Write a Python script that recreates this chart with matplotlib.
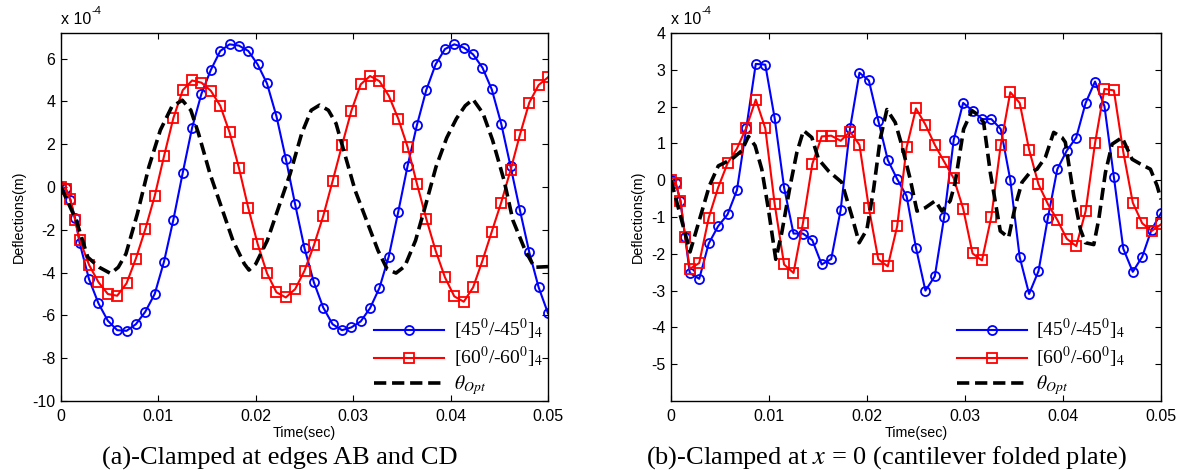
import numpy as np
import matplotlib
matplotlib.use("Agg")
import matplotlib.pyplot as plt

plt.rcParams['font.family'] = ['Liberation Sans', 'DejaVu Sans']
plt.rcParams['mathtext.fontset'] = 'stix'

# time samples (ms), shared by the two laminate series
t_ms = [0, 0.48, 0.96, 1.44, 1.92, 2.88, 3.85, 4.81, 5.77, 6.73,
        7.69, 8.65, 9.62, 10.58, 11.54, 12.50, 13.46, 14.42, 15.38, 16.35,
        17.31, 18.27, 19.23, 20.19, 21.15, 22.12, 23.08, 24.04, 25.00, 25.96,
        26.92, 27.88, 28.85, 29.81, 30.77, 31.73, 32.69, 33.65, 34.62, 35.58,
        36.54, 37.50, 38.46, 39.42, 40.38, 41.35, 42.31, 43.27, 44.23, 45.19,
        46.15, 47.12, 48.08, 49.04, 50.00]

# (a) clamped at edges AB and CD, deflections x 1e-4 m
a_45 = [0, -0.05, -0.6, -1.45, -2.63,
        -4.31, -5.44, -6.25, -6.69, -6.72, -6.41, -5.83, -5.0, -3.48, -1.52,
        0.67, 2.77, 4.36, 5.47, 6.36, 6.67, 6.61, 6.36, 5.73, 4.84,
        3.31, 1.33, -0.81, -2.86, -4.45, -5.63, -6.41, -6.69, -6.56, -6.28,
        -5.66, -4.72, -3.25, -1.17, 0.98, 2.89, 4.53, 5.73, 6.45, 6.67,
        6.52, 6.2, 5.58, 4.56, 2.97, 0.98, -1.09, -3.05, -4.69, -5.9]
a_60 = [0, -0.1, -0.58, -1.52, -2.46,
        -3.64, -4.45, -5.0, -5.08, -4.5, -3.34, -1.98, -0.42, 1.45, 3.23,
        4.53, 4.98, 4.88, 4.5, 3.8, 2.55, 0.89, -0.98, -2.66, -4.03,
        -4.92, -5.16, -4.77, -3.91, -2.73, -1.36, 0.27, 1.95, 3.56, 4.8,
        5.19, 4.95, 4.27, 3.2, 1.88, 0.16, -1.48, -2.97, -4.22, -5.11,
        -5.36, -4.69, -3.44, -2.08, -0.73, 0.78, 2.45, 3.95, 4.77, 5.13]
a_opt_t = [0, 1.57, 2.75, 3.92, 5.1, 5.88, 6.67, 7.84, 9.02, 10.2,
           11.37, 12.45, 13.33, 14.12, 15.29, 16.47, 17.65, 18.82, 19.3, 20.0,
           21.18, 22.35, 23.53, 24.71, 25.69, 26.55, 27.45, 28.24, 29.02, 30.2,
           31.37, 32.55, 33.5, 34.4, 35.3, 36.4, 37.4, 38.5, 39.6, 40.6,
           41.5, 42.3, 43.33, 44.31, 45.49, 46.4, 47.65, 48.6, 50.0]
a_opt = [0, -1.56, -3.28, -3.75, -4.04, -3.75, -3.12, -1.25, 0.94, 2.66,
         3.75, 4.06, 3.59, 2.5, 0.63, -0.94, -2.5, -3.59, -3.88, -3.59,
         -2.5, -0.94, 0.63, 2.5, 3.59, 3.83, 3.59, 2.97, 1.72, -0.16,
         -1.56, -2.97, -3.85, -4.02, -3.7, -2.5, -0.9, 0.94, 2.3, 3.2,
         3.8, 4.1, 3.44, 2.19, 0.31, -1.56, -2.95, -3.75, -3.72]

# (b) clamped at x = 0 (cantilever folded plate)
b_45 = [0, -0.08, -0.56, -1.54, -2.52,
        -2.68, -1.72, -1.25, -0.93, -0.27, 1.43, 3.16, 3.14, 1.68, -0.2,
        -1.45, -1.45, -1.63, -2.29, -2.14, -0.81, 1.41, 2.92, 2.71, 1.62,
        0.55, 0.03, -0.43, -1.84, -3.0, -2.61, -0.99, 1.1, 2.1, 1.89,
        1.66, 1.66, 1.39, 0.01, -2.09, -3.09, -2.47, -1.02, 0.3, 0.8,
        1.16, 2.1, 2.68, 2.01, 0.09, -1.86, -2.49, -2.08, -1.34, -0.9]
b_60 = [0, -0.08, -0.56, -1.54, -2.41,
        -2.25, -1.02, -0.2, 0.46, 0.86, 1.43, 2.19, 1.41, -0.65, -2.29,
        -2.52, -1.17, 0.44, 1.19, 1.21, 1.07, 1.32, 0.96, -0.75, -2.15,
        -2.34, -1.25, 0.89, 1.95, 1.51, 0.96, 0.5, 0.05, -0.77, -1.99,
        -2.18, -0.99, 0.96, 2.39, 2.1, 0.83, -0.11, -0.65, -1.08, -1.59,
        -1.79, -0.84, 1.01, 2.48, 2.44, 0.77, -0.61, -1.17, -1.38, -1.2]
b_opt_t = [0, 1.94, 3.92, 4.83, 6.2, 7.22, 7.9, 8.58, 9.26, 9.94,
           10.69, 11.3, 12.16, 12.84, 13.52, 14.37, 15.05, 16.07, 17.43, 18.45,
           19.2, 19.99, 20.67, 21.35, 22.03, 22.88, 23.56, 24.41, 25.1, 25.94,
           26.96, 27.64, 28.49, 29.0, 29.86, 30.71, 31.2, 31.9, 32.58, 33.6,
           34.45, 35.13, 35.81, 36.57, 37.35, 38.2, 39.05, 39.9, 40.24, 41.1,
           41.78, 42.29, 43.14, 43.65, 44.33, 45.01, 46.03, 47.05, 47.9, 48.92,
           49.6, 50.0]
b_opt = [0, -1.95, -0.15, 0.39, 0.57, 0.8, 1.19, 0.94, 0.3, -0.79,
         -2.15, -1.43, -0.15, 0.75, 1.35, 1.16, 0.57, 0.25, -0.06, -0.97,
         -1.7, -1.34, -0.25, 1.12, 1.92, 1.57, 0.94, 0.03, -0.84, -0.75,
         -0.56, -0.84, -0.56, -0.06, 1.39, 1.89, 1.8, 1.57, 0.21, -1.38,
         -1.56, -0.7, -0.06, 0.19, 0.3, 0.62, 1.3, 1.16, 1.03, -0.43,
         -1.34, -1.7, -1.75, -1.06, 0.21, 0.98, 1.16, 0.57, 0.44, 0.3,
         -0.15, -0.52]

labels = ['[45$^{0}$/-45$^{0}$]$_{4}$', '[60$^{0}$/-60$^{0}$]$_{4}$', r'$\theta_{Opt}$']

captions = ['(a)-Clamped at edges AB and CD',
            '(b)-Clamped at $x$ = 0 (cantilever folded plate)']

t = np.array(t_ms) / 1000.0

fig = plt.figure(figsize=(11.85, 4.7), dpi=100)
axA = fig.add_axes([61 / 1185, 69 / 470, 487 / 1185, 368 / 470])
axB = fig.add_axes([671 / 1185, 69 / 470, 490 / 1185, 368 / 470])


def draw(ax, y45, y60, topt, yopt, ylim, yticks, leg_x):
    l1, = ax.plot(t, y45, '-o', color='#0000ff', lw=1.5, ms=6.5, mfc='none', mew=1.3)
    l2, = ax.plot(t, y60, '-s', color='#ff0000', lw=1.5, ms=7, mfc='none', mew=1.3)
    l3, = ax.plot(np.array(topt) / 1000.0, yopt, '--', color='black', lw=2.6,
                  dashes=(3.4, 1.6))
    ax.set_xlim(0, 0.05)
    ax.set_ylim(*ylim)
    ax.set_xticks([0, 0.01, 0.02, 0.03, 0.04, 0.05])
    ax.set_xticklabels(['0', '0.01', '0.02', '0.03', '0.04', '0.05'])
    ax.set_yticks(yticks)
    ax.set_yticklabels([str(v) for v in yticks])
    ax.tick_params(direction='in', top=True, right=True, length=4, width=0.8,
                   labelsize=11.5)
    ax.tick_params(axis='x', pad=6)
    ax.tick_params(axis='y', pad=4)
    for s in ax.spines.values():
        s.set_linewidth(1.0)
    ax.set_xlabel('Time(sec)', fontsize=10.3, labelpad=1.5)
    ax.set_ylabel('Deflections(m)', fontsize=10.3, labelpad=4.5)
    ax.text(0, 1.015, 'x 10', transform=ax.transAxes,
            fontsize=11.5, ha='left', va='bottom')
    ax.text(0.063, 1.045, '-4', transform=ax.transAxes,
            fontsize=8, ha='left', va='bottom')
    ax.legend([l1, l2, l3], labels, loc='lower left', bbox_to_anchor=(leg_x, 0.0),
              frameon=False, handlelength=3.6, handletextpad=0.5,
              labelspacing=0.15, borderpad=0.2, borderaxespad=0.0,
              prop={'family': 'Liberation Serif', 'size': 14})


draw(axA, a_45, a_60, a_opt_t, a_opt, (-10, 7.2), list(range(-10, 7, 2)), 0.635)
draw(axB, b_45, b_60, b_opt_t, b_opt, (-6, 4), list(range(-5, 5)), 0.575)

fig.text(280 / 1185, 1 - 458 / 470, captions[0], fontsize=19, ha='center',
         va='center', family='Liberation Serif')
fig.text(886 / 1185, 1 - 458 / 470, captions[1], fontsize=19, ha='center',
         va='center', family='Liberation Serif')

fig.savefig('out.png', dpi=100)
